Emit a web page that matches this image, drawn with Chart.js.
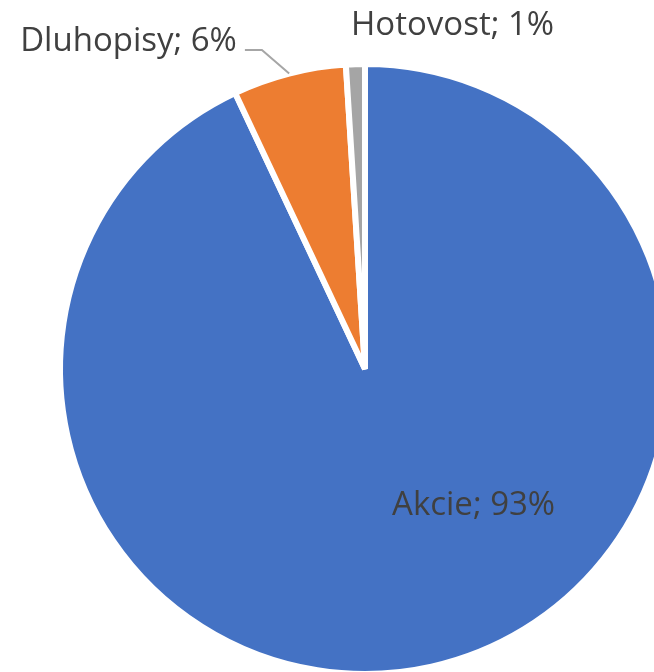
<!DOCTYPE html>
<html>
<head>
<meta charset="utf-8">
<script src="https://cdn.jsdelivr.net/npm/chart.js@4"></script>
<style>
  html, body { margin: 0; padding: 0; background: #fff; overflow: hidden; width: 654px; height: 672px; }
  #wrap { position: absolute; left: 0; top: 0; width: 740px; height: 700px; }
</style>
</head>
<body>
<div id="wrap"><canvas id="c"></canvas></div>
<script>
const categories = ['Akcie', 'Dluhopisy', 'Hotovost'];
const shares = [93, 6, 1];
const sliceColors = ['#4472C4', '#ED7D31', '#A5A5A5'];

// label placement relative to pie centre, in units of the outer radius
const labelLayout = [
  { dx: 0.356, dy: 0.479, align: 'center', leader: false },
  { dx: -0.420, dy: -1.043, align: 'right', leader: true },
  { dx: 0.287, dy: -1.095, align: 'center', leader: false }
];

const labelPlugin = {
  id: 'pieLabels',
  afterDatasetsDraw(chart) {
    const ctx = chart.ctx;
    const meta = chart.getDatasetMeta(0);
    ctx.save();
    ctx.font = '33px "Open Sans"';
    ctx.fillStyle = '#404040';
    ctx.textBaseline = 'alphabetic';
    meta.data.forEach((arc, i) => {
      const p = arc.getProps(['x', 'y', 'startAngle', 'endAngle', 'outerRadius'], true);
      const R = p.outerRadius;
      const L = labelLayout[i];
      const tx = p.x + L.dx * R;
      const ty = p.y + L.dy * R;
      const text = categories[i] + '; ' + shares[i] + '%';
      ctx.textAlign = L.align;
      ctx.fillText(text, tx, ty);
      if (L.leader) {
        const mid = (p.startAngle + p.endAngle) / 2;
        const ex = p.x + Math.cos(mid) * R;
        const ey = p.y + Math.sin(mid) * R;
        const ly = ty - 1;
        ctx.beginPath();
        ctx.strokeStyle = '#A6A6A6';
        ctx.lineWidth = 2;
        ctx.moveTo(tx + 8, ly);
        ctx.lineTo(tx + 25, ly);
        ctx.lineTo(ex, ey);
        ctx.stroke();
      }
    });
    ctx.restore();
  }
};

new Chart(document.getElementById('c'), {
  type: 'pie',
  data: {
    labels: categories,
    datasets: [{
      data: shares,
      backgroundColor: sliceColors,
      borderColor: '#ffffff',
      borderWidth: 6,
      hoverBorderWidth: 6,
      hoverOffset: 0,
      offset: 0
    }]
  },
  options: {
    responsive: true,
    maintainAspectRatio: false,
    animation: false,
    events: [],
    layout: { padding: { left: 57, top: 61, right: 67, bottom: 23 } },
    plugins: {
      legend: { display: false },
      tooltip: { enabled: false },
      title: { display: false }
    }
  },
  plugins: [labelPlugin]
});
</script>
</body>
</html>
